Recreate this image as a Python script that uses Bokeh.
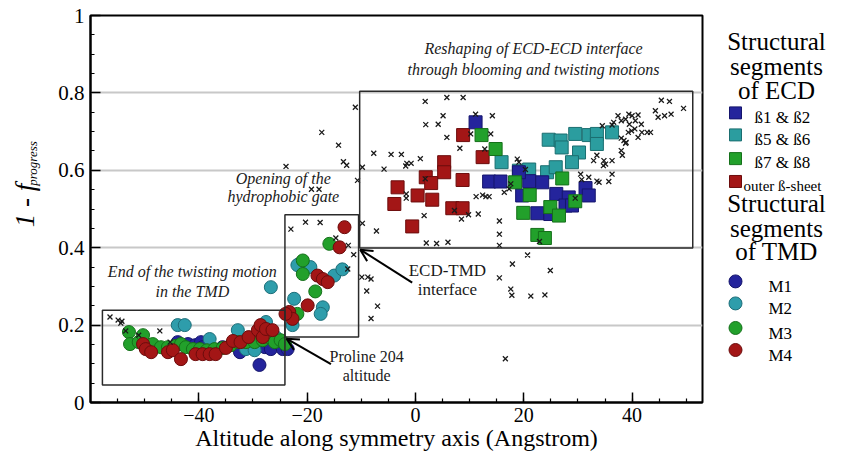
from math import pi
from bokeh.plotting import figure
from bokeh.models import (Range1d, FixedTicker, NumeralTickFormatter, BoxAnnotation,
                          Label, Arrow, OpenHead)
from bokeh.layouts import row
from bokeh.core.properties import value
from bokeh.embed import file_html
from bokeh.resources import INLINE

FONT = "Liberation Serif"

# ---------------- data ----------------
# TMD structural segments (circles)
m1_x = [-43.9, -42.0, -40.7, -39.6, -39.3, -35.6, -32.4, -30.4, -28.8, -27.8, -26.7, -24.5, -23.6, -21.4]
m1_y = [0.156, 0.151, 0.148, 0.156, 0.143, 0.143, 0.130, 0.141, 0.097, 0.143, 0.138, 0.138, 0.138, 0.358]

m2_x = [-43.9, -42.6, -38.0, -32.8, -31.3, -29.7, -27.6, -26.7, -25.8, -22.7, -21.8, -19.4, -22.4,
        -17.1, -17.5, -15.0, -13.5]
m2_y = [0.200, 0.200, 0.164, 0.187, 0.138, 0.135, 0.208, 0.298, 0.169, 0.200, 0.355, 0.350, 0.268,
        0.246, 0.229, 0.328, 0.344]

m3_x = [-52.9, -52.7, -51.1, -50.3, -48.5, -47.0, -45.7, -44.4, -43.3, -42.4, -41.1, -39.8, -38.5,
        -37.1, -35.6, -34.1, -32.8, -31.3, -29.7, -28.2, -27.1, -26.0, -24.9, -24.1,
        -15.9, -20.8, -20.8, -18.5, -21.8]
m3_y = [0.182, 0.151, 0.156, 0.174, 0.151, 0.143, 0.143, 0.146, 0.151, 0.143, 0.138, 0.138, 0.135,
        0.138, 0.141, 0.148, 0.156, 0.156, 0.156, 0.161, 0.169, 0.156, 0.161, 0.151,
        0.410, 0.367, 0.332, 0.287, 0.229]

m4_x = [-50.3, -49.8, -48.8, -45.7, -44.8, -43.3, -40.6, -39.3, -38.0, -36.9, -35.0, -33.7, -32.3,
        -30.8, -29.1, -28.6, -28.2, -27.6, -26.4,
        -13.1, -14.0, -18.1, -17.1, -16.2, -19.9, -23.3, -22.7, -24.0]
m4_y = [0.151, 0.138, 0.130, 0.130, 0.135, 0.112, 0.125, 0.125, 0.125, 0.125, 0.141, 0.159, 0.156,
        0.169, 0.187, 0.200, 0.169, 0.190, 0.187,
        0.453, 0.401, 0.328, 0.319, 0.311, 0.251, 0.234, 0.216, 0.229]

# ECD structural segments (squares)
b12_x = [11.1, 13.6, 15.7, 21.0, 23.4, 19.7, 22.5, 26.0, 28.3, 27.7, 28.9, 24.9, 31.4, 32.0, 19.1]
b12_y = [0.724, 0.571, 0.571, 0.572, 0.569, 0.535, 0.489, 0.539, 0.530, 0.509, 0.509, 0.487, 0.554, 0.535, 0.595]

b56_x = [15.9, 19.1, 21.0, 24.3, 25.9, 24.6, 26.8, 27.0, 29.5, 30.2, 28.9, 32.0, 33.5, 33.5, 36.3]
b56_y = [0.621, 0.599, 0.602, 0.595, 0.608, 0.679, 0.677, 0.659, 0.694, 0.646, 0.621, 0.691, 0.694, 0.668, 0.698]

b78_x = [12.2, 14.8, 18.4, 21.1, 19.9, 24.9, 26.5, 27.1, 29.5, 22.5, 23.9]
b78_y = [0.691, 0.655, 0.569, 0.536, 0.490, 0.505, 0.483, 0.579, 0.520, 0.433, 0.425]

outer_x = [8.8, 12.4, 5.3, 5.3, 1.9, 2.9, 8.7, -3.3, -3.9, 0.4, 3.1, 6.8, 8.7, -0.6]
outer_y = [0.691, 0.634, 0.621, 0.595, 0.582, 0.567, 0.575, 0.556, 0.513, 0.535, 0.524, 0.502, 0.502, 0.455]

# residues (crosses)
cross_x = [-56.4, -54.9, -54.2, -54.4, -53.5, -51.1, -47.2, -45.3,
           -23.9, -23.0, -20.3, -17.6, -19.2, -17.8, -17.3, -14.2, -13.3, -12.7, -10.7, -9.8, -5.8, -11.1,
           -14.7, -12.4, -11.4, -12.5, -9.9, -8.8, -8.2, -9.0, -7.0, -8.2, -9.8, -7.2,
           1.8, 5.8, 8.8, 5.1, 1.9, 4.2, 5.8, 10.2, 11.1, 14.2, 13.9,
           -7.7, -4.5, -2.6, -1.6, -0.8, -1.8, 0.9,
           8.2, 12.8, 1.8, -1.7, -1.7, 11.2, 12.4, 13.0, 13.6,
           1.6, 7.2, 9.8, 8.5, 11.6, 15.5, 15.5, 15.5,
           2.0, 3.9, 6.0, 18.8, 19.1, 17.3, 16.4, 17.6, 20.3,
           20.7, 17.9, 15.5, 24.9, 22.9, 17.6, 17.8, 21.3, 23.9, 16.6,
           29.5, 34.8, 33.5, 36.3, 38.0, 38.9, 38.0, 36.3, 33.9, 35.7, 32.0, 30.7, 33.5, 35.1,
           45.4, 46.9, 49.5, 44.3, 44.8, 46.0, 47.2,
           37.4, 39.4, 40.0, 41.1, 38.0, 38.8, 39.5, 40.6, 41.7, 40.5, 41.8, 42.8, 43.4, 39.3, 39.9,
           41.1, 38.5, 38.8, 36.6, 36.3, 34.5, 32.9, 34.7, 38.2, 30.5]
cross_y = [0.221, 0.213, 0.210, 0.205, 0.185, 0.174, 0.185, 0.156,
           0.610, 0.448, 0.466, 0.465, 0.551, 0.551, 0.698, 0.665, 0.622, 0.613, 0.574, 0.608, 0.603, 0.763,
           0.425, 0.406, 0.382, 0.345, 0.324, 0.324, 0.319, 0.288, 0.249, 0.217, 0.463, 0.443,
           0.778, 0.788, 0.788, 0.741, 0.718, 0.719, 0.685, 0.694, 0.745, 0.741, 0.694,
           0.644, 0.641, 0.641, 0.618, 0.618, 0.611, 0.630,
           0.657, 0.655, 0.578, 0.539, 0.528, 0.532, 0.536, 0.532, 0.532,
           0.483, 0.496, 0.485, 0.474, 0.487, 0.469, 0.435, 0.406,
           0.412, 0.411, 0.414, 0.629, 0.621, 0.552, 0.543, 0.565, 0.602,
           0.381, 0.358, 0.322, 0.341, 0.416, 0.293, 0.277, 0.275, 0.278, 0.113,
           0.528, 0.625, 0.639, 0.625, 0.651, 0.672, 0.683, 0.590, 0.569, 0.571, 0.582, 0.576, 0.572, 0.616,
           0.781, 0.778, 0.760, 0.754, 0.737, 0.741, 0.745,
           0.741, 0.745, 0.741, 0.743, 0.728, 0.732, 0.719, 0.728, 0.719, 0.707, 0.698, 0.698, 0.698, 0.698, 0.702,
           0.685, 0.677, 0.670, 0.724, 0.717, 0.715, 0.625, 0.612, 0.639, 0.590]

x_major_ticks = [-40, -20, 0, 20, 40]
y_major_ticks = [0, 0.2, 0.4, 0.6, 0.8, 1.0]

ecd_labels = ["ß1 & ß2", "ß5 & ß6", "ß7 & ß8", "outer ß-sheet"]
tmd_labels = ["M1", "M2", "M3", "M4"]

# colours
BLUE, BLUE_E = "#24249c", "#15156c"
TEAL, TEAL_E = "#2b9d9f", "#1b6e70"
CYAN, CYAN_E = "#2e9dab", "#1d6e79"
GREEN, GREEN_E = "#22a02b", "#15701a"
RED, RED_E = "#a31616", "#6c0c0c"

H = 457

# ---------------- y-label panel (left) ----------------
ylab = figure(width=45, height=H, x_range=Range1d(8, 53), y_range=Range1d(0, H),
              min_border=0, output_backend="svg", toolbar_location=None,
              x_axis_location=None, y_axis_location=None, outline_line_color=None)
ylab.grid.grid_line_color = None
ylab.text(x=[32], y=[207], text=["1 - f"], angle=pi / 2, text_font=value(FONT),
          text_font_style="italic", text_font_size="27px", text_color="black",
          text_align="left", text_baseline="alphabetic")
ylab.text(x=[40], y=[256], text=["progress"], angle=pi / 2, text_font=value(FONT),
          text_font_style="italic", text_font_size="13px", text_color="black",
          text_align="left", text_baseline="alphabetic")

# ---------------- main figure ----------------
p = figure(width=665, height=H, x_range=Range1d(-60, 53), y_range=Range1d(0, 1),
           min_border_left=45, min_border_right=8, min_border_top=15, min_border_bottom=55,
           output_backend="svg", toolbar_location=None, background_fill_color="white")

p.outline_line_color = "black"
p.outline_line_width = 2
p.outline_line_alpha = 1

for ax in (p.xaxis, p.yaxis):
    ax.axis_line_width = 2
    ax.axis_line_color = "black"
    ax.major_tick_in = 10
    ax.major_tick_out = 0
    ax.minor_tick_in = 4
    ax.minor_tick_out = 0
    ax.major_tick_line_width = 1.5
    ax.minor_tick_line_width = 1.2
    ax.major_tick_line_color = "black"
    ax.minor_tick_line_color = "black"
    ax.major_label_text_font = FONT
    ax.major_label_text_color = "black"

p.xaxis.ticker = FixedTicker(ticks=x_major_ticks, minor_ticks=list(range(-55, 55, 5)))
p.xaxis.major_label_text_font_size = "20px"
p.xaxis.major_label_standoff = 5
p.xaxis.axis_label = "Altitude along symmetry axis (Angstrom)"
p.xaxis.axis_label_text_font = FONT
p.xaxis.axis_label_text_font_size = "24px"
p.xaxis.axis_label_text_font_style = "normal"
p.xaxis.axis_label_text_color = "black"
p.xaxis.axis_label_standoff = 0

p.yaxis.ticker = FixedTicker(ticks=y_major_ticks, minor_ticks=[i * 0.05 for i in range(21)])
p.yaxis.formatter = NumeralTickFormatter(format="0.[0]")
p.yaxis.major_label_text_font_size = "21px"
p.yaxis.major_label_standoff = 6

p.xgrid.grid_line_color = None
p.ygrid.ticker = FixedTicker(ticks=[0.2, 0.4, 0.6, 0.8])
p.ygrid.grid_line_color = "#c8c8c8"
p.ygrid.grid_line_width = 2

# squares (ECD)
SQ = 13
p.scatter(outer_x, outer_y, marker="square", size=SQ, fill_color=RED, line_color=RED_E, line_width=1)
p.scatter(b56_x, b56_y, marker="square", size=SQ, fill_color=TEAL, line_color=TEAL_E, line_width=1)
p.scatter(b12_x, b12_y, marker="square", size=SQ, fill_color=BLUE, line_color=BLUE_E, line_width=1)
p.scatter(b78_x, b78_y, marker="square", size=SQ, fill_color=GREEN, line_color=GREEN_E, line_width=1)

# circles (TMD)
CI = 13
p.scatter(m1_x, m1_y, marker="circle", size=CI, fill_color=BLUE, line_color=BLUE_E, line_width=1)
p.scatter(m2_x, m2_y, marker="circle", size=CI, fill_color=CYAN, line_color=CYAN_E, line_width=1)
p.scatter(m3_x, m3_y, marker="circle", size=CI, fill_color=GREEN, line_color=GREEN_E, line_width=1)
p.scatter(m4_x, m4_y, marker="circle", size=CI, fill_color=RED, line_color=RED_E, line_width=1)

# crosses
p.scatter(cross_x, cross_y, marker="x", size=7, line_color="#1a1a1a", line_width=1.3)

# region boxes
for l, r, b, t in [(-57.8, -24.1, 0.045, 0.2385), (-24.1, -10.5, 0.169, 0.485), (-10.3, 51.2, 0.399, 0.804)]:
    p.add_layout(BoxAnnotation(left=l, right=r, bottom=b, top=t, fill_color=None, fill_alpha=0,
                               line_color="#2a2a2a", line_alpha=1, line_width=1.5))

# arrows
p.add_layout(Arrow(end=OpenHead(size=12, line_width=2, line_color="black"),
                   x_start=-0.6, y_start=0.310, x_end=-10.2, y_end=0.395, line_width=2, line_color="black"))
p.add_layout(Arrow(end=OpenHead(size=12, line_width=2, line_color="black"),
                   x_start=-15.6, y_start=0.099, x_end=-23.8, y_end=0.165, line_width=2, line_color="black"))

def note(x, y, txt, size="16px", style="italic"):
    p.add_layout(Label(x=x, y=y, text=txt, text_font=FONT, text_font_style=style,
                       text_font_size=size, text_color="#1a1a1a", text_align="center",
                       text_baseline="middle"))

note(-41.2, 0.3385, "End of the twisting motion")
note(-41.2, 0.287, "in the TMD")
note(-24.4, 0.579, "Opening of the")
note(-24.4, 0.5315, "hydrophobic gate")
note(21.8, 0.915, "Reshaping of ECD-ECD interface")
note(21.8, 0.860, "through blooming and twisting motions")
note(5.9, 0.340, "ECD-TMD", size="17px", style="normal")
note(5.9, 0.291, "interface", size="17px", style="normal")
note(-9.0, 0.119, "Proline 204", size="16px", style="normal")
note(-9.0, 0.069, "altitude", size="16px", style="normal")

# ---------------- legend panel (right) ----------------
leg = figure(width=118, height=H, x_range=Range1d(718, 836), y_range=Range1d(465, 8),
             min_border=0, output_backend="svg", toolbar_location=None,
             x_axis_location=None, y_axis_location=None, outline_line_color=None)
leg.grid.grid_line_color = None

head_kw = dict(text_font=value(FONT), text_font_size="25px", text_align="center",
               text_baseline="alphabetic", text_color="black")
leg.text(x=[784, 784, 784], y=[39, 68, 97], text=["Structural", "segments", "of ECD"], **head_kw)
leg.text(x=[784, 784, 784], y=[230, 259, 287], text=["Structural", "segments", "of TMD"], **head_kw)

item_kw = dict(text_font=value(FONT), text_align="left",
               text_baseline="alphabetic", text_color="black")
ecd_fill = [BLUE, TEAL, GREEN, RED]
ecd_edge = [BLUE_E, TEAL_E, GREEN_E, RED_E]
ecd_rows = [123, 149, 177, 204]
leg.scatter(x=[743] * 4, y=ecd_rows, marker="square", size=12, fill_color=ecd_fill, line_color=ecd_edge)
leg.text(x=[762, 762, 762], y=[r + 5 for r in ecd_rows[:3]], text=ecd_labels[:3],
         text_font_size="17px", **item_kw)
leg.text(x=[751], y=[ecd_rows[3] + 5], text=ecd_labels[3:], text_font_size="15px", **item_kw)

tmd_fill = [BLUE, CYAN, GREEN, RED]
tmd_edge = [BLUE_E, CYAN_E, GREEN_E, RED_E]
tmd_rows = [322, 348, 377, 403]
leg.scatter(x=[743] * 4, y=tmd_rows, marker="circle", size=13, fill_color=tmd_fill, line_color=tmd_edge)
leg.text(x=[776] * 4, y=[r + 6 for r in tmd_rows], text=tmd_labels, text_font_size="17px", **item_kw)

layout = row(ylab, p, leg)
open("out.html", "w").write(file_html(layout, INLINE))
